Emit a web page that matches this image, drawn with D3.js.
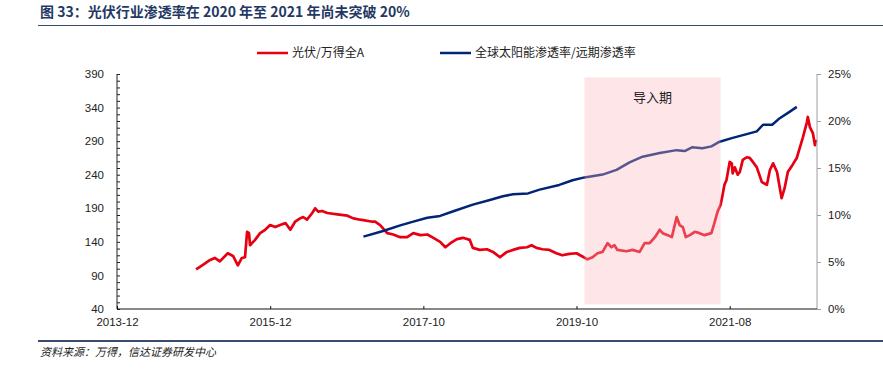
<!DOCTYPE html>
<html>
<head>
<meta charset="utf-8">
<script src="https://cdn.jsdelivr.net/npm/d3@7"></script>
<style>
  body { margin: 0; background: #fff; }
  svg { display: block; }
  text { font-family: "Liberation Sans", Arial, "Noto Sans CJK SC", sans-serif; }
  .cjk { font-family: "Noto Sans CJK SC", sans-serif; }
</style>
</head>
<body>
<div id="container"></div>
<script>
// ---- data ----
var title = "图 33：光伏行业渗透率在 2020 年至 2021 年尚未突破 20%";
var source = "资料来源：万得，信达证券研发中心";
var seriesNames = ["光伏/万得全A", "全球太阳能渗透率/远期渗透率"];

var xTickDates = ["2013-12-01", "2015-12-01", "2017-10-01", "2019-10-01", "2021-08-01"];
var xTickLabels = ["2013-12", "2015-12", "2017-10", "2019-10", "2021-08"];
var xEndDate = "2022-08-16";
var leftTicks = [40, 90, 140, 190, 240, 290, 340, 390];
var rightTicks = [0, 5, 10, 15, 20, 25];

// 光伏/万得全A (left axis)
var redDates = [
  "2014-12-13", "2015-01-11", "2015-02-18", "2015-03-12", "2015-04-05", "2015-05-13",
  "2015-06-07", "2015-06-30", "2015-07-19", "2015-08-03", "2015-08-13", "2015-08-22",
  "2015-08-27", "2015-09-20", "2015-10-14", "2015-11-07", "2015-12-01", "2015-12-23",
  "2016-01-14", "2016-02-06", "2016-02-27", "2016-03-19", "2016-04-10", "2016-04-23",
  "2016-05-10", "2016-06-02", "2016-06-15", "2016-06-28", "2016-07-15", "2016-08-07",
  "2016-09-20", "2016-11-03", "2016-11-29", "2016-12-29", "2017-02-21", "2017-03-04",
  "2017-03-26", "2017-04-26", "2017-05-22", "2017-06-22", "2017-07-22", "2017-08-18",
  "2017-09-18", "2017-10-20", "2017-11-18", "2017-12-20", "2018-01-14", "2018-02-07",
  "2018-03-10", "2018-04-08", "2018-05-10", "2018-05-25", "2018-06-27", "2018-07-31",
  "2018-08-29", "2018-10-01", "2018-11-03", "2018-12-02", "2019-01-04", "2019-02-07",
  "2019-03-01", "2019-03-24", "2019-04-22", "2019-05-25", "2019-06-27", "2019-07-25",
  "2019-08-28", "2019-10-01", "2019-10-23", "2019-11-18", "2019-12-10", "2020-01-01",
  "2020-01-23", "2020-02-14", "2020-03-02", "2020-03-15", "2020-03-28", "2020-05-07",
  "2020-06-02", "2020-07-03", "2020-07-25", "2020-08-16", "2020-09-08", "2020-09-29",
  "2020-10-12", "2020-11-03", "2020-11-21", "2020-12-12", "2020-12-25", "2021-01-08",
  "2021-01-21", "2021-02-08", "2021-03-01", "2021-03-22", "2021-04-13", "2021-05-13",
  "2021-05-26", "2021-06-09", "2021-06-22", "2021-07-01", "2021-07-09", "2021-07-18",
  "2021-08-01", "2021-08-10", "2021-08-14", "2021-08-23", "2021-09-05", "2021-09-14",
  "2021-09-27", "2021-10-14", "2021-10-27", "2021-11-10", "2021-11-27", "2021-12-19",
  "2022-01-10", "2022-01-23", "2022-02-06", "2022-02-23", "2022-03-15", "2022-03-28",
  "2022-04-11", "2022-05-02", "2022-05-20", "2022-06-02", "2022-06-15", "2022-07-03",
  "2022-07-07", "2022-07-16", "2022-07-29", "2022-08-07", "2022-08-12"
];
var redValues = [
  99, 105, 113, 116, 111, 123,
  119, 105, 116, 117, 155, 153,
  135, 143, 153, 158, 165, 162,
  165, 168, 158, 170, 175, 177,
  173, 183, 190, 185, 186, 183,
  181, 179, 175, 173, 170, 170,
  165, 153, 151, 147, 147, 153,
  150, 151, 146, 140, 132, 138,
  144, 146, 143, 131, 128, 129,
  125, 117, 125, 128, 131, 132,
  135, 131, 129, 128, 123, 120,
  122, 123, 119, 114, 117, 123,
  125, 138, 132, 135, 128, 126,
  128, 125, 138, 138, 147, 158,
  153, 150, 147, 177, 165, 162,
  147, 150, 155, 153, 150, 153,
  168, 185, 195, 210, 225, 232,
  259, 257, 242, 251, 240, 244,
  262, 266, 265, 259, 251, 229,
  225, 247, 257, 244, 205, 220,
  244, 255, 265, 280, 295, 318,
  326, 311, 302, 284, 292
];

// 全球太阳能渗透率/远期渗透率 (right axis, %)
var blueDates = [
  "2017-01-12", "2017-04-08", "2017-06-22", "2017-08-18", "2017-10-20", "2017-12-20",
  "2018-02-21", "2018-05-25", "2018-08-14", "2018-10-15", "2018-12-02", "2019-02-12",
  "2019-04-08", "2019-07-11", "2019-09-12", "2019-11-05", "2020-01-23", "2020-03-24",
  "2020-05-20", "2020-07-16", "2020-09-29", "2020-12-12", "2021-01-16", "2021-02-17",
  "2021-04-04", "2021-05-13", "2021-06-18", "2021-08-14", "2021-10-14", "2021-11-27",
  "2021-12-24", "2022-02-02", "2022-03-07", "2022-04-20", "2022-05-20"
];
var blueValues = [
  7.7, 8.3, 8.9, 9.3, 9.7, 9.9,
  10.4, 11.1, 11.6, 12.0, 12.2, 12.3,
  12.7, 13.2, 13.7, 14.0, 14.3, 14.8,
  15.6, 16.2, 16.6, 16.9, 16.8, 17.2,
  17.1, 17.3, 17.8, 18.2, 18.6, 18.9,
  19.6, 19.6, 20.3, 21.0, 21.5
];

// 导入期 shaded period
var phaseLabel = "导入期";
var phaseDates = ["2019-11-05", "2021-06-22"];
var phaseRange = [47, 385];

// ---- chart ----
var W = 883, H = 374;
var margin = { top: 74, right: 66, bottom: 65, left: 117 };
var width = W - margin.left - margin.right;
var height = H - margin.top - margin.bottom;
var parse = d3.timeParse("%Y-%m-%d");

var svg = d3.select("#container").append("svg")
  .attr("width", W).attr("height", H);

// header
svg.append("text")
  .attr("class", "cjk")
  .attr("x", 40).attr("y", 17)
  .style("font-size", "14px").style("font-weight", "bold")
  .style("fill", "#1f3864")
  .text(title);
svg.append("line")
  .attr("x1", 38).attr("x2", W).attr("y1", 25.5).attr("y2", 25.5)
  .style("stroke", "#3a4a6e").style("stroke-width", 1.2);
svg.append("line")
  .attr("x1", 38).attr("x2", W).attr("y1", 341).attr("y2", 341)
  .style("stroke", "#3a4a6e").style("stroke-width", 2);
svg.append("text")
  .attr("class", "cjk")
  .attr("x", 40).attr("y", 356)
  .style("font-size", "11px").style("font-style", "italic")
  .style("fill", "#222")
  .text(source);

var main = svg.append("g")
  .attr("transform", "translate(" + margin.left + "," + margin.top + ")");

// x: category-like date axis, labelled ticks evenly spaced
var tickDates = xTickDates.map(parse);
var step = width / 4.57;
var x = d3.scaleTime()
  .domain(tickDates.concat([parse(xEndDate)]))
  .range(tickDates.map(function (d, i) { return i * step; }).concat([width]));
var yL = d3.scaleLinear().domain([40, 390]).range([height, 0]);
var yR = d3.scaleLinear().domain([0, 25]).range([height, 0]);

var red = redDates.map(function (d, i) { return { date: parse(d), v: redValues[i] }; });
var blue = blueDates.map(function (d, i) { return { date: parse(d), v: blueValues[i] }; });

var lineL = d3.line().x(function (d) { return x(d.date); }).y(function (d) { return yL(d.v); });
var lineR = d3.line().x(function (d) { return x(d.date); }).y(function (d) { return yR(d.v); });

main.append("path").datum(red)
  .attr("d", lineL)
  .style("fill", "none").style("stroke", "#e60012")
  .style("stroke-width", 2.7).style("stroke-linejoin", "round");
main.append("path").datum(blue)
  .attr("d", lineR)
  .style("fill", "none").style("stroke", "#002576")
  .style("stroke-width", 2.5).style("stroke-linejoin", "round");

// shaded phase drawn over the lines (semi transparent)
main.append("rect")
  .attr("x", x(parse(phaseDates[0])))
  .attr("width", x(parse(phaseDates[1])) - x(parse(phaseDates[0])))
  .attr("y", yL(phaseRange[1]))
  .attr("height", yL(phaseRange[0]) - yL(phaseRange[1]))
  .style("fill", "#f9b5bd").style("fill-opacity", 0.35);
main.append("text")
  .attr("class", "cjk")
  .attr("x", (x(parse(phaseDates[0])) + x(parse(phaseDates[1]))) / 2)
  .attr("y", yL(phaseRange[1]) + 25)
  .attr("text-anchor", "middle")
  .style("font-size", "13px").style("fill", "#222")
  .text(phaseLabel);

// left axis
var gL = main.append("g").call(
  d3.axisLeft(yL).tickValues(d3.range(40, 391, 10)).tickSize(-3).tickPadding(13)
    .tickFormat(function (d) { return leftTicks.indexOf(d) >= 0 ? d : ""; })
);
gL.select(".domain").attr("d", "M0," + height + "V0").style("stroke", "#222");
gL.selectAll(".tick line").style("stroke", "#222");
gL.selectAll("text").style("font-size", "11.5px").style("fill", "#222");

// right axis
var gR = main.append("g").attr("transform", "translate(" + width + ",0)").call(
  d3.axisRight(yR).tickValues(rightTicks).tickSize(4).tickPadding(7)
    .tickFormat(function (d) { return d + "%"; })
);
gR.select(".domain").attr("d", "M0," + height + "V0").style("stroke", "#a0a0a0");
gR.selectAll(".tick line").style("stroke", "#a0a0a0");
gR.selectAll("text").style("font-size", "11.5px").style("fill", "#222");

// bottom axis
var gB = main.append("g").attr("transform", "translate(0," + height + ")").call(
  d3.axisBottom(x).tickValues(tickDates).tickSize(-3).tickPadding(9)
    .tickFormat(function (d, i) { return xTickLabels[i]; })
);
gB.select(".domain").attr("d", "M0,0H" + width).style("stroke", "#111");
gB.selectAll(".tick line").style("stroke", "#111");
gB.selectAll("text").style("font-size", "11.5px").style("fill", "#222");

// legend
var legendColors = ["#e60012", "#002576"];
var legendX = [257, 440];
var legend = svg.selectAll("g.legend-item")
  .data(seriesNames).enter().append("g")
  .attr("class", "legend-item")
  .attr("transform", function (d, i) { return "translate(" + legendX[i] + ",53)"; });
legend.append("line")
  .attr("x1", 0).attr("x2", 31)
  .style("stroke", function (d, i) { return legendColors[i]; })
  .style("stroke-width", 2.5);
legend.append("text")
  .attr("class", "cjk")
  .attr("x", 35).attr("dy", "0.35em")
  .style("font-size", "12px").style("fill", "#222")
  .text(function (d) { return d; });
</script>
</body>
</html>
